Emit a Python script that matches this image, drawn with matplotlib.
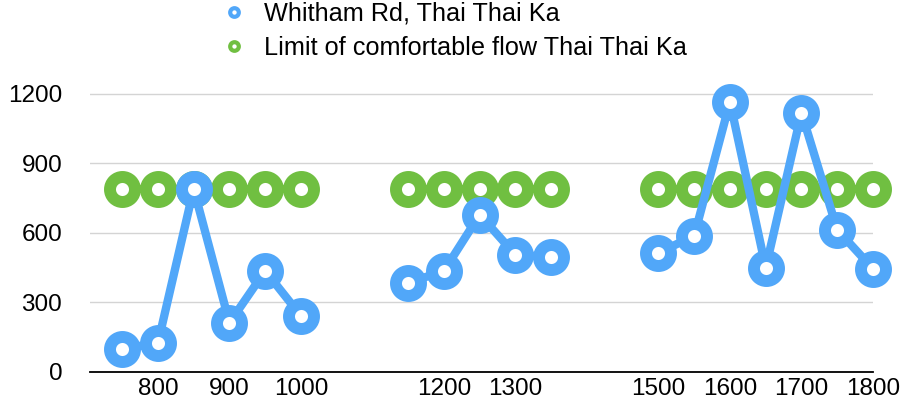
import numpy as np
import matplotlib
matplotlib.use("Agg")
import matplotlib.pyplot as plt

plt.rcParams['font.family'] = ['Liberation Sans', 'DejaVu Sans']

# Time of day (hhmm); NaN values leave gaps in the lines
times = [750, 800, 850, 900, 950, 1000, 1050, 1100, 1150, 1200, 1250, 1300,
         1350, 1400, 1450, 1500, 1550, 1600, 1650, 1700, 1750, 1800]
whitham_rd = [100, 125, 790, 212, 436, 242, np.nan, np.nan, 384, 436, 678, 505,
              496, np.nan, np.nan, 514, 587, 1165, 449, 1118, 613, 445]
comfort_limit = [790, 790, 790, 790, 790, 790, np.nan, np.nan, 790, 790, 790, 790,
                 790, np.nan, np.nan, 790, 790, 790, 790, 790, 790, 790]
x_ticks = [800, 900, 1000, 1200, 1300, 1500, 1600, 1700, 1800]
y_ticks = [0, 300, 600, 900, 1200]

series_names = ["Whitham Rd, Thai Thai Ka", "Limit of comfortable flow Thai Thai Ka"]
blue = "#51a7f9"
green = "#70bf41"

W, H = 903, 412
fig = plt.figure(figsize=(W / 100, H / 100), dpi=100)
ax = fig.add_axes([90 / W, 40 / H, (873 - 90) / W, (372 - 82) / H])

ring = dict(marker='o', markersize=18, markeredgewidth=8.6,
            markerfacecolor='white', clip_on=False)

ax.plot(times, comfort_limit, color=green, lw=5.8, markeredgecolor=green,
        zorder=3, **ring)
ax.plot(times, whitham_rd, color=blue, lw=6.0, markeredgecolor=blue,
        zorder=4, solid_joinstyle='round', **ring)

ax.set_xlim(705, 1800)
ax.set_ylim(0, 1250)
ax.set_xticks(x_ticks)
ax.set_xticklabels([str(t) for t in x_ticks])
ax.set_yticks(y_ticks)

for s in ['top', 'right', 'left']:
    ax.spines[s].set_visible(False)
ax.spines['bottom'].set_color('black')
ax.spines['bottom'].set_linewidth(1.3)

ax.grid(axis='y', color='#d4d4d4', lw=1.0)
ax.set_axisbelow(True)
ax.tick_params(axis='x', length=0, pad=4, labelsize=17.5, colors='black')
ax.tick_params(axis='y', length=0, pad=20, labelsize=17.5, colors='black')

leg_handles = []
for c in (blue, green):
    leg_handles.append(plt.Line2D([], [], color=c, lw=0, marker='o', markersize=6.2,
                                  markeredgewidth=3.0, markerfacecolor='white',
                                  markeredgecolor=c))
fig.legend(leg_handles, series_names, loc='upper left',
           bbox_to_anchor=(221 / W, 1 - 2 / H), frameon=False, fontsize=18.2,
           handlelength=1.0, handletextpad=0.7, labelspacing=0.4,
           borderaxespad=0, borderpad=0)

fig.savefig("out.png", dpi=100)
